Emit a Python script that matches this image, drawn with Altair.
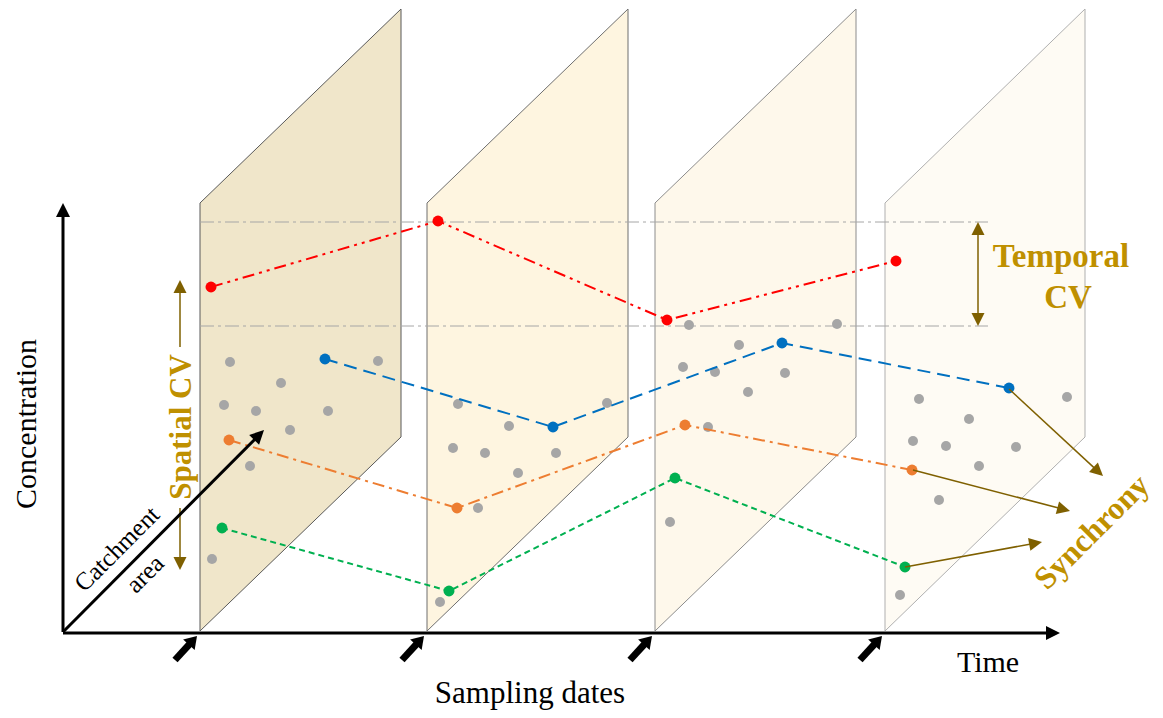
import math
import altair as alt
import pandas as pd

# ---------------- data (pixel-like diagram coordinates) ----------------
W, H = 1147, 702
X_DOMAIN = [8, 1155]
Y_DOMAIN = [8, 710]

# sampling-date planes (parallelograms)
panel_left = [200, 427, 655, 885]
panel_right = [401, 628, 856, 1085]
panel_left_top, panel_left_bottom = 203, 631
panel_right_top, panel_right_bottom = 9, 437
panel_fill = ["#F0E6CA", "#FEF5E0", "#FEF8EB", "#FEFBF4"]
panel_stroke = ["#595959", "#6F6F6F", "#8C8C8C", "#AFAFAF"]

# four catchment series, one point per sampling date
red_x = [211, 438, 667, 896]
red_y = [287, 221, 320, 261]
blue_x = [325, 553, 782, 1009]
blue_y = [359, 427, 343, 388]
orange_x = [229, 457, 685, 912]
orange_y = [440, 508, 425, 470]
green_x = [222, 449, 675, 905]
green_y = [528, 591, 478, 567]

# other sites (grey dots)
grey_x = [230, 378, 281, 224, 256, 328, 290, 250, 212,
          458, 509, 607, 453, 485, 556, 518, 478, 440,
          689, 739, 683, 715, 785, 748, 708, 670, 837,
          919, 1067, 969, 913, 946, 1016, 979, 939, 900]
grey_y = [362, 361, 383, 405, 411, 411, 430, 466, 559,
          404, 426, 403, 448, 453, 453, 473, 508, 602,
          325, 345, 367, 372, 373, 392, 427, 522, 324,
          399, 397, 419, 441, 446, 447, 466, 500, 595]

# temporal CV reference lines
ref_y = [222, 326]
ref_x_start, ref_x_end = 200, 988

# arrows (x1, y1) -> (x2, y2), head at (x2, y2)
gold_x1 = [978, 978, 180, 180, 1009, 913, 905]
gold_y1 = [274, 274, 347, 508, 389, 470, 567]
gold_x2 = [978, 978, 180, 180, 1103, 1070, 1042]
gold_y2 = [222, 326, 280, 570, 476, 511, 542]

axis_x1 = [63, 63, 63]
axis_y1 = [632, 633, 632]
axis_x2 = [63, 1060, 264]
axis_y2 = [203, 633, 430]

date_x1 = [175, 402, 630, 860]
date_y1 = [660, 660, 660, 660]
date_x2 = [197, 424, 652, 882]
date_y2 = [636, 636, 636, 636]

# texts
GOLD_TEXT = "#BF9000"
GOLD_ARROW = "#7F6000"
SERIF = "Liberation Serif"

xs = alt.Scale(domain=X_DOMAIN, nice=False, zero=False)
ys = alt.Scale(domain=Y_DOMAIN, nice=False, zero=False, reverse=True)


def X(f="x"):
    return alt.X(f"{f}:Q", scale=xs, axis=None)


def Y(f="y"):
    return alt.Y(f"{f}:Q", scale=ys, axis=None)


layers = []

# planes
for i in range(4):
    dfp = pd.DataFrame({
        "x": [panel_left[i], panel_right[i]],
        "y": [panel_left_top, panel_right_top],
        "y2": [panel_left_bottom, panel_right_bottom],
    })
    layers.append(
        alt.Chart(dfp).mark_area(fill=panel_fill[i], stroke=panel_stroke[i],
                                 strokeWidth=1, orient="vertical", opacity=1)
        .encode(x=X(), y=Y(), y2=alt.Y2("y2:Q"))
    )

# reference lines
df_ref = pd.DataFrame({"y": ref_y, "x": [ref_x_start] * 2, "x2": [ref_x_end] * 2})
layers.append(
    alt.Chart(df_ref).mark_rule(color="#A6A6A6", strokeWidth=1, strokeDash=[14, 4, 3, 4])
    .encode(x=X(), x2=alt.X2("x2:Q"), y=Y())
)

HEAD = "M0,0L-0.5,1L0.5,1Z"
HEAD_WIDE = "M0,0L-0.65,1L0.65,1Z"


def arrows(x1, y1, x2, y2, color, width, head_len, shape=HEAD):
    rows = []
    for a, b, c, d in zip(x1, y1, x2, y2):
        dx, dy = c - a, d - b
        L = math.hypot(dx, dy)
        ux, uy = dx / L, dy / L
        cut = head_len * 0.75
        ang = math.degrees(math.atan2(dx, -dy)) % 360
        rows.append({"x": a, "y": b, "xe": c - ux * cut, "ye": d - uy * cut,
                     "hx": c, "hy": d, "ang": ang})
    df = pd.DataFrame(rows)
    shaft = alt.Chart(df).mark_rule(color=color, strokeWidth=width).encode(
        x=X(), y=Y(), x2=alt.X2("xe:Q"), y2=alt.Y2("ye:Q"))
    head = alt.Chart(df).mark_point(shape=shape, filled=True, fill=color, strokeWidth=0,
                                    opacity=1, size=(2 * head_len) ** 2).encode(
        x=X("hx"), y=Y("hy"), angle=alt.Angle("ang:Q", scale=None))
    return [shaft, head]


# grey dots
df_grey = pd.DataFrame({"x": grey_x, "y": grey_y})
layers.append(
    alt.Chart(df_grey).mark_circle(color="#A6A6A6", size=100, opacity=1)
    .encode(x=X(), y=Y())
)

# series lines and points
series = [
    (red_x, red_y, "#FF0000", [12, 5, 3, 5, 3, 5]),
    (blue_x, blue_y, "#0070C0", [13, 7]),
    (orange_x, orange_y, "#ED7D31", [12, 5, 3, 5]),
    (green_x, green_y, "#00B050", [6, 4]),
]
for sx, sy, col, dash in series:
    dfs = pd.DataFrame({"x": sx, "y": sy})
    layers.append(alt.Chart(dfs).mark_line(color=col, strokeWidth=2, strokeDash=dash)
                  .encode(x=X(), y=Y()))
    layers.append(alt.Chart(dfs).mark_circle(color=col, size=120, opacity=1)
                  .encode(x=X(), y=Y()))

# arrows
layers += arrows(gold_x1, gold_y1, gold_x2, gold_y2, GOLD_ARROW, 1.5, 13)
layers += arrows(axis_x1, axis_y1, axis_x2, axis_y2, "#000000", 3, 14)
layers += arrows(date_x1, date_y1, date_x2, date_y2, "#000000", 7, 12, HEAD_WIDE)


def text(label, x, y, size, angle=0, bold=False, color="#000000", baseline="alphabetic"):
    df = pd.DataFrame({"x": [x], "y": [y], "t": [label]})
    return alt.Chart(df).mark_text(
        font=SERIF, fontSize=size, fontWeight="bold" if bold else "normal",
        color=color, angle=angle, align="center", baseline=baseline
    ).encode(x=X(), y=Y(), text="t:N")


layers += [
    text("Concentration", 27, 424, 30, angle=270, baseline="middle"),
    text("Catchment", 117, 549, 25, angle=315, baseline="middle"),
    text("area", 145, 574, 25, angle=315, baseline="middle"),
    text("Time", 988, 672, 30),
    text("Sampling dates", 530, 703, 31),
    text("Spatial CV", 182, 427, 31, angle=270, bold=True, color=GOLD_TEXT, baseline="middle"),
    text("Temporal", 1061, 267, 33, bold=True, color=GOLD_TEXT),
    text("CV", 1068, 308, 33, bold=True, color=GOLD_TEXT),
    text("Synchrony", 1092, 532, 32, angle=315, bold=True, color=GOLD_TEXT, baseline="middle"),
]

chart = alt.layer(*layers).properties(
    width=W, height=H,
    autosize=alt.AutoSizeParams(type="none"),
    padding=0,
).configure_view(stroke=None)

chart.save("out.html", embed_options={"renderer": "svg", "actions": False})
